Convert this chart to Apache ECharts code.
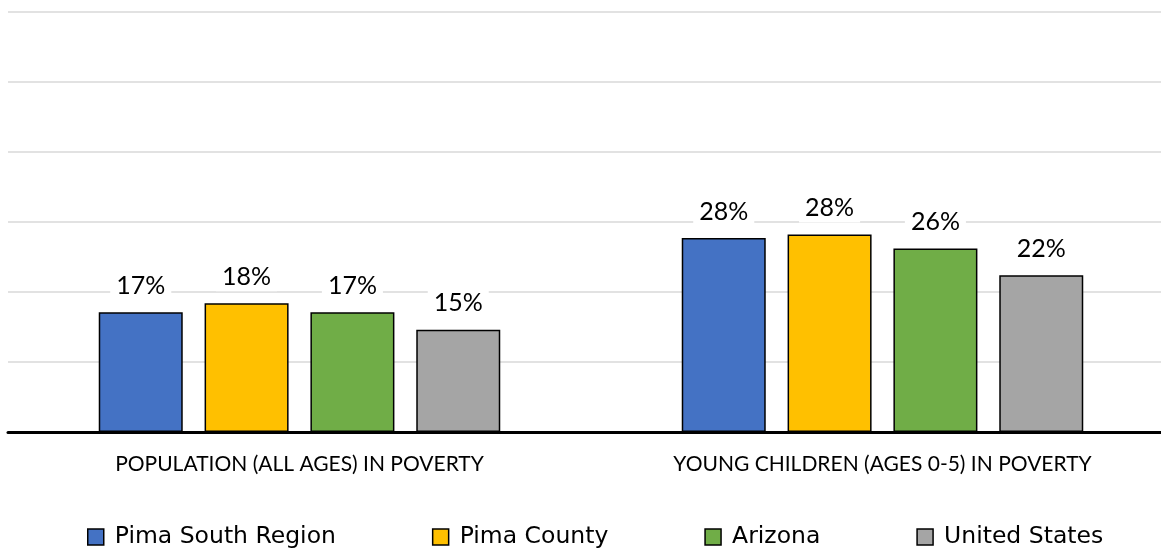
<!DOCTYPE html>
<html>
<head>
<meta charset="utf-8">
<script src="https://cdn.jsdelivr.net/npm/echarts@6/dist/echarts.min.js"></script>
<style>
  html, body { margin: 0; padding: 0; background: #fff; overflow: hidden; }
  /* 图表区域略宽于窗口，右侧网格超出画面 */
  #chart { width: 1174px; height: 552px; }
</style>
</head>
<body>
<div id="chart"></div>
<script>
// 分类与数据
var categories = ['POPULATION (ALL AGES) IN POVERTY', 'YOUNG CHILDREN (AGES 0-5) IN POVERTY'];
var seriesNames = ['Pima South Region', 'Pima County', 'Arizona', 'United States'];
var pimaSouth = [17.1, 27.7];
var pimaCounty = [18.4, 28.2];
var arizona = [17.1, 26.2];
var unitedStates = [14.6, 22.4];
var colors = ['#4472c4', '#ffc000', '#70ad47', '#a5a5a5'];

var font = 'Lato';
var legendFont = 'DejaVu Sans';
var allData = [pimaSouth, pimaCounty, arizona, unitedStates];

var series = seriesNames.map(function(name, i) {
	return {
		name: name,
		type: 'bar',
		data: allData[i],
		barWidth: 84,
		barGap: '26%',
		itemStyle: { color: colors[i], borderColor: '#000', borderWidth: 1.5 },
		label: {
			show: true,
			position: 'top',
			distance: 12,
			color: '#000',
			fontFamily: font,
			fontSize: 25,
			backgroundColor: '#fff',
			padding: [2, 6, 2, 6],
			formatter: function(p) { return Math.round(p.value) + '%'; }
		}
	};
});

var myChart = echarts.init(document.getElementById('chart'));
myChart.setOption({
	animation: false,
	color: colors,
	textStyle: { fontFamily: font },
	legend: {
		data: seriesNames,
		top: 524,
		left: 87,
		padding: 0,
		icon: 'rect',
		itemWidth: 16,
		itemHeight: 16,
		itemGap: 96,
		itemStyle: { borderColor: '#000', borderWidth: 1.5 },
		textStyle: { fontFamily: legendFont, fontSize: 23.5, color: '#000', lineHeight: 26, padding: [0, 0, 0, 6] }
	},
	grid: { left: 8, right: 0, top: 12, bottom: 120, containLabel: false },
	xAxis: {
		type: 'category',
		data: categories,
		axisLine: { lineStyle: { color: '#000', width: 3 } },
		axisTick: { show: false },
		axisLabel: { fontFamily: font, fontSize: 21, color: '#000', margin: 22 }
	},
	yAxis: {
		type: 'value',
		min: 0,
		max: 60,
		interval: 10,
		axisLabel: { show: false },
		axisLine: { show: false },
		axisTick: { show: false },
		splitLine: { lineStyle: { color: '#d9d9d9', width: 1.5 } }
	},
	series: series
});
</script>
</body>
</html>
